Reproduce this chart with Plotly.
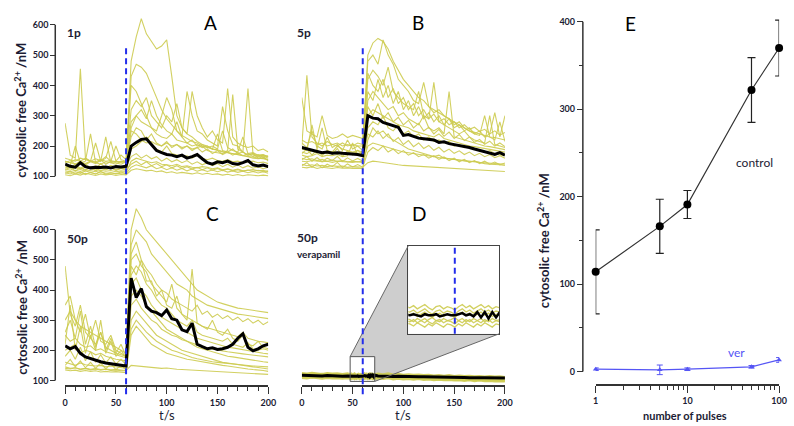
import plotly.graph_objects as go

W, H = 794, 426


def fx(x):
    return x / W


def fy(y):
    return 1 - y / H


# ---------------- time grids ----------------
T = list(range(0, 201, 5))
TD = list(range(0, 46, 5)) + list(range(48, 73)) + list(range(75, 201, 5))

# ---------------- A: 1 pulse ----------------
a_mean = [140, 133, 130, 145, 132, 128, 130, 129, 131, 128,
          132, 131, 133, 200, 212, 222, 224, 205, 185, 178,
          172, 170, 165, 170, 160, 165, 172, 158, 145, 140,
          148, 145, 150, 142, 140, 145, 152, 138, 134, 137,
          132]
a_cells = [
    [150, 145, 140, 148, 142, 150, 145, 140, 148, 145,
     150, 145, 150, 480, 560, 620, 570, 545, 520, 530,
     550, 430, 300, 260, 240, 230, 215, 205, 200, 190,
     188, 182, 178, 175, 170, 168, 165, 160, 158, 160,
     155],
    [130, 128, 132, 125, 130, 128, 135, 130, 126, 130,
     128, 132, 130, 430, 470, 460, 440, 400, 360, 320,
     290, 270, 250, 235, 225, 215, 210, 200, 195, 190,
     185, 180, 178, 175, 170, 168, 165, 162, 160, 158,
     155],
    [275, 170, 160, 455, 160, 150, 210, 150, 160, 215,
     150, 170, 155, 400, 380, 340, 300, 260, 250, 300,
     360, 320, 250, 230, 380, 300, 250, 240, 220, 210,
     200, 330, 250, 205, 200, 180, 170, 175, 160, 165,
     150],
    [150, 145, 155, 150, 160, 150, 148, 155, 150, 152,
     148, 150, 150, 320, 350, 330, 360, 300, 280, 260,
     300, 280, 340, 260, 240, 380, 300, 260, 230, 250,
     220, 210, 390, 230, 210, 200, 195, 200, 185, 190,
     180],
    [125, 120, 128, 122, 130, 125, 120, 130, 124, 128,
     122, 126, 125, 250, 240, 220, 210, 215, 205, 200,
     210, 200, 205, 195, 200, 190, 195, 200, 185, 180,
     178, 175, 185, 370, 190, 180, 390, 170, 165, 168,
     160],
    [112, 108, 115, 110, 118, 112, 108, 115, 110, 112,
     108, 110, 112, 150, 160, 155, 150, 145, 148, 140,
     138, 135, 140, 132, 135, 130, 128, 132, 130, 125,
     128, 122, 125, 120, 124, 118, 120, 122, 118, 120,
     115],
    [105, 102, 108, 104, 110, 106, 103, 108, 105, 107,
     103, 106, 105, 120, 125, 122, 118, 120, 115, 118,
     112, 115, 110, 113, 110, 108, 112, 107, 110, 106,
     108, 104, 107, 103, 106, 102, 105, 104, 102, 104,
     102],
    [140, 135, 200, 145, 150, 240, 145, 150, 230, 145,
     140, 150, 145, 280, 300, 320, 290, 350, 300, 270,
     250, 240, 280, 230, 210, 220, 200, 205, 195, 200,
     190, 250, 195, 185, 180, 230, 175, 178, 170, 172,
     165],
    [160, 155, 150, 160, 155, 150, 158, 152, 165, 150,
     200, 155, 150, 260, 300, 280, 270, 260, 240, 230,
     225, 240, 220, 215, 210, 200, 205, 195, 200, 190,
     240, 185, 180, 190, 175, 180, 170, 175, 168, 170,
     165],
    [118, 115, 120, 116, 122, 118, 115, 120, 117, 119,
     115, 118, 117, 190, 200, 215, 230, 210, 190, 180,
     200, 175, 170, 165, 168, 160, 170, 158, 155, 160,
     152, 150, 155, 148, 150, 145, 148, 150, 145, 147,
     142],
    [135, 128, 140, 126, 138, 130, 125, 142, 128, 136,
     130, 126, 132, 165, 175, 160, 170, 158, 165, 150,
     160, 148, 155, 145, 152, 140, 148, 138, 145, 135,
     142, 132, 140, 130, 138, 128, 135, 127, 132, 125,
     130],
    [122, 130, 118, 128, 120, 132, 118, 126, 121, 129,
     119, 127, 120, 140, 150, 138, 148, 135, 142, 132,
     138, 128, 135, 126, 132, 124, 130, 122, 128, 120,
     126, 119, 124, 118, 122, 117, 121, 116, 120, 115,
     118],
    [145, 152, 140, 150, 138, 148, 142, 155, 140, 150,
     145, 140, 148, 230, 260, 250, 220, 240, 210, 200,
     215, 195, 205, 190, 200, 185, 195, 180, 190, 175,
     185, 172, 180, 170, 178, 168, 175, 165, 172, 162,
     168],
    [110, 115, 108, 114, 106, 113, 108, 116, 107, 112,
     109, 114, 108, 130, 138, 132, 128, 135, 125, 130,
     122, 128, 120, 126, 118, 124, 117, 122, 116, 121,
     115, 120, 114, 118, 113, 117, 112, 116, 111, 115,
     110],
]

# ---------------- B: 5 pulses ----------------
b_mean = [195, 190, 185, 182, 178, 180, 176, 178, 176, 175,
          174, 172, 168, 300, 292, 290, 278, 272, 268, 262,
          235, 238, 232, 226, 224, 222, 220, 212, 214, 208,
          205, 200, 198, 195, 190, 186, 182, 176, 172, 178,
          170]
b_cells = [
    [220, 210, 215, 205, 210, 200, 205, 210, 200, 205,
     200, 210, 205, 500, 540, 555, 545, 520, 480, 450,
     420, 400, 380, 360, 350, 330, 320, 310, 300, 290,
     280, 270, 260, 250, 245, 240, 235, 230, 228, 225,
     220],
    [200, 433, 230, 210, 200, 215, 205, 200, 210, 200,
     205, 200, 200, 480, 500, 470, 550, 500, 470, 420,
     400, 380, 350, 340, 410, 330, 310, 320, 300, 290,
     270, 280, 260, 250, 240, 235, 300, 230, 220, 280,
     215],
    [360, 250, 240, 230, 300, 235, 225, 230, 240, 228,
     235, 230, 225, 420, 450, 430, 400, 460, 380, 360,
     340, 330, 320, 380, 300, 290, 410, 280, 270, 260,
     250, 240, 250, 230, 220, 215, 210, 300, 205, 200,
     195],
    [180, 175, 185, 178, 180, 176, 182, 178, 180, 175,
     178, 176, 175, 350, 380, 360, 340, 320, 330, 300,
     310, 290, 280, 270, 300, 260, 250, 260, 240, 380,
     230, 225, 220, 215, 210, 205, 200, 198, 195, 190,
     188],
    [160, 155, 158, 152, 156, 150, 154, 150, 152, 148,
     150, 148, 150, 300, 320, 310, 300, 290, 280, 270,
     265, 260, 250, 245, 240, 235, 230, 240, 225, 220,
     215, 210, 205, 200, 198, 195, 190, 188, 185, 182,
     180],
    [140, 135, 138, 134, 136, 132, 135, 133, 134, 130,
     132, 130, 130, 145, 150, 148, 145, 142, 140, 138,
     136, 135, 134, 132, 130, 130, 128, 128, 126, 125,
     124, 123, 122, 121, 120, 120, 119, 118, 118, 117,
     116],
    [130, 128, 132, 126, 130, 128, 126, 129, 127, 128,
     126, 127, 125, 220, 260, 240, 250, 230, 220, 210,
     200, 190, 185, 180, 175, 170, 165, 170, 160, 158,
     155, 152, 150, 148, 150, 145, 142, 140, 140, 138,
     136],
    [190, 185, 270, 190, 260, 185, 180, 200, 190, 185,
     180, 185, 180, 380, 350, 420, 360, 400, 340, 380,
     320, 350, 300, 330, 290, 310, 280, 300, 270, 290,
     260, 270, 250, 260, 240, 250, 230, 240, 310, 230,
     300],
    [170, 165, 168, 175, 165, 170, 168, 172, 165, 168,
     210, 170, 165, 260, 280, 270, 300, 260, 250, 270,
     240, 250, 230, 240, 220, 230, 215, 220, 210, 215,
     200, 205, 195, 200, 190, 185, 180, 185, 175, 170,
     170],
    [150, 148, 152, 150, 148, 150, 146, 150, 148, 147,
     146, 148, 145, 200, 210, 205, 200, 195, 190, 185,
     180, 178, 175, 172, 170, 168, 165, 162, 160, 158,
     155, 153, 150, 150, 148, 146, 145, 144, 142, 140,
     140],
    [175, 190, 170, 188, 168, 185, 172, 192, 166, 184,
     170, 186, 172, 330, 300, 340, 290, 310, 280, 295,
     270, 285, 260, 275, 250, 262, 240, 255, 232, 246,
     225, 238, 218, 230, 212, 222, 206, 216, 200, 210,
     198],
    [135, 145, 130, 142, 128, 140, 132, 146, 129, 141,
     131, 139, 130, 180, 195, 185, 200, 180, 190, 175,
     185, 170, 178, 165, 172, 160, 168, 156, 164, 152,
     160, 148, 156, 145, 152, 142, 150, 140, 147, 138,
     144],
    [210, 195, 250, 200, 190, 230, 195, 205, 185, 220,
     190, 200, 185, 440, 400, 380, 420, 360, 390, 340,
     360, 320, 340, 300, 320, 290, 305, 280, 290, 270,
     280, 260, 270, 255, 262, 248, 255, 240, 250, 236,
     245],
    [155, 165, 150, 162, 148, 160, 152, 166, 149, 161,
     151, 159, 150, 240, 230, 250, 225, 240, 215, 228,
     205, 218, 198, 210, 192, 202, 186, 196, 180, 190,
     176, 184, 172, 180, 168, 176, 165, 172, 162, 168,
     160],
]

# ---------------- C: 50 pulses ----------------
c_mean = [215, 205, 212, 190, 178, 172, 168, 162, 158, 156,
          152, 150, 148, 440, 375, 405, 345, 330, 325, 315,
          334, 305, 300, 268, 262, 290, 220, 212, 205, 208,
          203, 205, 210, 220, 240, 255, 210, 198, 205, 215,
          220]
c_cells = [
    [300, 330, 300, 280, 270, 260, 250, 240, 230, 220,
     210, 200, 190, 600, 670, 640, 600, 580, 560, 540,
     520, 500, 480, 460, 440, 420, 400, 390, 380, 370,
     360, 355, 350, 345, 340, 338, 335, 332, 330, 328,
     325],
    [480, 320, 280, 350, 260, 240, 300, 230, 220, 250,
     200, 190, 180, 550, 600, 580, 560, 520, 500, 480,
     460, 440, 420, 410, 400, 380, 370, 360, 350, 345,
     340, 335, 330, 325, 320, 318, 315, 312, 310, 308,
     305],
    [350, 380, 300, 260, 320, 240, 220, 260, 210, 200,
     190, 185, 180, 500, 520, 480, 460, 420, 400, 380,
     360, 420, 340, 320, 310, 300, 290, 280, 275, 270,
     265, 260, 255, 250, 245, 260, 240, 235, 230, 228,
     225],
    [200, 210, 220, 190, 200, 195, 185, 190, 180, 175,
     170, 168, 165, 450, 480, 460, 420, 400, 370, 350,
     340, 320, 300, 290, 280, 300, 260, 250, 245, 240,
     235, 230, 240, 220, 215, 210, 225, 205, 200, 205,
     200],
    [250, 230, 240, 220, 210, 215, 200, 205, 195, 190,
     185, 180, 175, 420, 440, 400, 380, 350, 330, 310,
     300, 290, 280, 270, 260, 250, 240, 235, 230, 225,
     220, 215, 210, 208, 205, 200, 198, 195, 192, 190,
     188],
    [160, 155, 150, 158, 152, 150, 148, 150, 145, 148,
     145, 143, 140, 380, 400, 380, 350, 330, 310, 290,
     270, 260, 250, 240, 230, 220, 210, 205, 200, 195,
     190, 185, 180, 178, 175, 172, 170, 168, 165, 162,
     160],
    [145, 140, 142, 138, 140, 137, 139, 136, 138, 135,
     136, 134, 133, 150, 148, 146, 145, 144, 142, 140,
     141, 138, 137, 136, 135, 134, 133, 132, 130, 130,
     129, 128, 127, 126, 125, 124, 124, 123, 122, 121,
     120],
    [140, 138, 142, 136, 140, 135, 138, 134, 137, 133,
     135, 132, 132, 300, 330, 310, 290, 270, 250, 240,
     230, 220, 210, 200, 195, 190, 185, 180, 175, 170,
     165, 160, 158, 155, 152, 150, 148, 145, 143, 140,
     138],
    [220, 350, 200, 280, 190, 250, 200, 300, 190, 230,
     180, 200, 175, 480, 450, 500, 430, 430, 380, 400,
     350, 340, 380, 320, 300, 470, 290, 280, 270, 300,
     260, 250, 270, 240, 230, 250, 220, 215, 230, 210,
     205],
    [135, 132, 134, 130, 133, 130, 132, 128, 130, 128,
     129, 127, 126, 250, 280, 260, 240, 220, 210, 200,
     190, 185, 180, 175, 170, 168, 165, 160, 158, 155,
     152, 150, 148, 145, 143, 140, 138, 136, 135, 133,
     130],
    [260, 300, 240, 330, 220, 280, 210, 260, 200, 240,
     190, 220, 180, 520, 560, 500, 470, 450, 420, 400,
     390, 370, 360, 350, 340, 330, 350, 320, 330, 310,
     320, 305, 315, 300, 310, 295, 305, 290, 300, 285,
     295],
    [180, 200, 170, 210, 165, 195, 160, 185, 158, 178,
     155, 170, 152, 350, 370, 340, 320, 300, 290, 270,
     260, 250, 245, 235, 230, 225, 218, 212, 208, 204,
     200, 198, 195, 192, 190, 188, 186, 184, 182, 180,
     178],
    [150, 170, 145, 165, 142, 160, 140, 158, 138, 155,
     136, 150, 135, 270, 300, 280, 260, 245, 230, 220,
     210, 200, 195, 188, 182, 176, 172, 168, 165, 162,
     160, 158, 156, 154, 152, 150, 149, 148, 147, 146,
     145],
]

# ---------------- D: 50 pulses + verapamil ----------------
d_mean = ([117, 116, 117, 116, 115, 116, 115, 115, 114, 115]
          + [114, 115, 114, 113, 115, 114, 114, 115, 113, 114, 115, 114, 114,
             115, 116, 114, 115, 113, 117, 112, 117, 111, 117, 112, 117]
          + [115, 114, 115, 113, 114, 113, 113, 112, 112, 112, 112, 111, 111,
             111, 110, 111, 110, 110, 109, 110, 109, 109, 109, 108, 109, 108])
d_cells = [
    [125, 123, 126, 124, 122, 125, 123, 124, 122, 124]
    + [121, 123, 120, 122, 124, 121, 119, 122, 123, 120, 122, 121, 119,
       122, 124, 121, 123, 120, 122, 124, 121, 123, 120, 122, 121]
    + [123, 121, 124, 120, 122, 119, 121, 119, 120, 118, 119, 117, 118,
       116, 118, 115, 117, 115, 116, 114, 115, 113, 115, 113, 114, 112],
    [119, 121, 118, 120, 122, 119, 121, 118, 120, 119]
    + [117, 119, 116, 118, 120, 117, 115, 118, 119, 116, 118, 117, 115,
       118, 120, 117, 119, 116, 118, 120, 117, 119, 116, 118, 117]
    + [118, 116, 119, 115, 117, 115, 116, 114, 116, 113, 115, 112, 114,
       112, 113, 111, 112, 110, 112, 109, 111, 109, 110, 108, 109, 107],
    [113, 111, 114, 112, 110, 113, 111, 112, 110, 112]
    + [110, 108, 111, 109, 107, 110, 112, 109, 108, 111, 109, 110, 112,
       109, 107, 110, 108, 111, 109, 107, 110, 108, 111, 109, 110]
    + [111, 109, 112, 108, 110, 107, 109, 107, 108, 106, 108, 105, 107,
       105, 106, 104, 105, 103, 105, 102, 104, 102, 103, 101, 102, 100],
    [108, 106, 109, 107, 105, 108, 106, 107, 105, 107]
    + [106, 104, 107, 105, 103, 106, 104, 107, 105, 103, 106, 105, 103,
       106, 104, 107, 105, 103, 106, 104, 107, 105, 103, 106, 105]
    + [106, 104, 107, 103, 105, 103, 104, 102, 104, 101, 103, 100, 102,
       100, 101, 99, 100, 98, 100, 97, 99, 97, 98, 96, 97, 96],
    [122, 120, 123, 121, 119, 122, 120, 121, 119, 121]
    + [114, 116, 113, 115, 117, 114, 112, 115, 116, 113, 115, 114, 112,
       115, 117, 114, 116, 113, 115, 117, 114, 116, 113, 115, 114]
    + [116, 114, 117, 113, 115, 112, 114, 112, 113, 111, 113, 110, 112,
       110, 111, 109, 110, 108, 110, 107, 109, 107, 108, 106, 107, 105],
    [110, 112, 109, 111, 113, 110, 112, 109, 111, 110]
    + [108, 110, 107, 109, 111, 108, 106, 109, 110, 107, 109, 108, 106,
       109, 111, 108, 110, 107, 109, 111, 108, 110, 107, 109, 108]
    + [109, 107, 110, 106, 108, 106, 107, 105, 107, 104, 106, 103, 105,
       103, 104, 102, 103, 101, 103, 100, 102, 100, 101, 99, 100, 98],
]

# ---------------- E: peak amplitude vs pulse number ----------------
pulses = [1, 5, 10, 50, 100]
ctrl = [114, 166, 191, 322, 370]
ctrl_err = [48, 31, 16, 37, 32]
ver = [2.6, 1.9, 2.6, 5.3, 13.2]
ver_err = [1.5, 5.5, 1.5, 1.5, 2.7]

STIM_T = 60
ZOOM_T = [47.6, 71.8]
ZOOM_C = [96.7, 178.9]

YELLOW = "rgb(206,204,82)"
BLUE = "rgb(35,45,235)"
VERBLUE = "rgb(85,85,245)"
INK = "#1c1c34"
FONT = "Lato, 'Open Sans', sans-serif"

fig = go.Figure()


def add_panel(times, cells, mean, xa, ya, width=3, cell_width=1.1):
    for c in cells:
        fig.add_trace(go.Scatter(x=times, y=c, xaxis=xa, yaxis=ya, mode="lines",
                                 line=dict(color=YELLOW, width=cell_width), opacity=0.9,
                                 hoverinfo="skip", showlegend=False))
    fig.add_trace(go.Scatter(x=times, y=mean, xaxis=xa, yaxis=ya, mode="lines",
                             line=dict(color="black", width=width),
                             hoverinfo="skip", showlegend=False))


add_panel(T, a_cells, a_mean, "x", "y")
add_panel(T, b_cells, b_mean, "x2", "y")
add_panel(T, c_cells, c_mean, "x", "y2")
add_panel(TD, d_cells, d_mean, "x2", "y2", width=3, cell_width=1.8)
add_panel(TD, d_cells, d_mean, "x4", "y4", width=2.5, cell_width=1.3)

fig.add_trace(go.Scatter(
    x=pulses, y=ctrl, xaxis="x3", yaxis="y3", mode="lines+markers",
    line=dict(color="#333333", width=1.2),
    marker=dict(color="black", size=8),
    error_y=dict(type="data", array=ctrl_err, color="#222222", thickness=1.2, width=4),
    cliponaxis=False, showlegend=False, name="control"))
fig.add_trace(go.Scatter(
    x=pulses, y=ver, xaxis="x3", yaxis="y3", mode="lines+markers",
    line=dict(color=VERBLUE, width=1.2),
    marker=dict(color=VERBLUE, size=5, symbol="triangle-up"),
    error_y=dict(type="data", array=ver_err, color=VERBLUE, thickness=1, width=3),
    cliponaxis=False, showlegend=False, name="ver"))

tickfont = dict(family=FONT, size=9, color=INK, weight="bold")

time_axis = dict(range=[0, 200], anchor="free", position=fy(389), showline=True,
                 linecolor="#333", linewidth=1.5, ticks="outside", ticklen=7,
                 tickwidth=1.2, tickcolor="#333", tickvals=[0, 50, 100, 150, 200],
                 minor=dict(dtick=10, ticks="outside", ticklen=4, tickcolor="#333"),
                 tickfont=tickfont, showgrid=False, zeroline=False, ticklabelstandoff=1)
conc_axis = dict(anchor="free", position=fx(53), showline=False, ticks="outside",
                 ticklen=5, tickwidth=1.2, tickcolor="#333",
                 tickvals=[100, 200, 300, 400, 500, 600], tickfont=tickfont,
                 showgrid=False, zeroline=False)


def ydom(v_lo, v_hi, px_lo, px_hi, r_lo, r_hi):
    # map a value range onto pixel rows and extend it to the plotted range
    k = (px_lo - px_hi) / (v_hi - v_lo)
    return [fy(px_lo + (v_lo - r_lo) * k), fy(px_hi - (r_hi - v_hi) * k)]


fig.update_layout(
    width=W, height=H, margin=dict(l=0, r=0, t=0, b=0),
    paper_bgcolor="white", plot_bgcolor="rgba(0,0,0,0)",
    font=dict(family=FONT, color=INK),
    xaxis=dict(domain=[fx(63), fx(269)], **time_axis),
    xaxis2=dict(domain=[fx(303), fx(509)], **time_axis),
    yaxis=dict(domain=ydom(100, 600, 177, 24, 92, 645), range=[92, 645], **conc_axis),
    yaxis2=dict(domain=ydom(100, 600, 383, 231, 90, 690), range=[90, 690], **conc_axis),
    xaxis3=dict(type="log", domain=[fx(601), fx(787)], range=[0, 2], anchor="free",
                position=fy(388), showline=True, linecolor="#333", linewidth=1.5,
                ticks="outside", ticklen=7, tickwidth=1.2, tickcolor="#333",
                tickvals=[1, 10, 100], ticktext=["1", "10", "100"], tickfont=tickfont,
                minor=dict(tickvals=[2, 3, 4, 5, 6, 7, 8, 9, 20, 30, 40, 50, 60, 70, 80, 90],
                           ticks="outside", ticklen=4, tickcolor="#333"),
                showgrid=False, zeroline=False),
    yaxis3=dict(domain=ydom(0, 400, 374, 21, -8, 405), range=[-8, 405], anchor="free",
                position=fx(588), showline=False, ticks="outside", ticklen=6,
                tickwidth=1.2, tickcolor="#333", tickvals=[0, 100, 200, 300, 400],
                minor=dict(tickvals=[50, 150, 250, 350], ticks="outside", ticklen=4,
                           tickcolor="#333"),
                tickfont=tickfont, showgrid=False, zeroline=False),
    xaxis4=dict(domain=[fx(411), fx(503)], range=ZOOM_T, anchor="y4", showline=True,
                mirror=True, linecolor="#444", linewidth=1.2, showticklabels=False,
                ticks="", showgrid=False, zeroline=False),
    yaxis4=dict(domain=[fy(336), fy(247)], range=ZOOM_C, anchor="x4", showline=True,
                mirror=True, linecolor="#444", linewidth=1.2, showticklabels=False,
                ticks="", showgrid=False, zeroline=False),
)


def ppath(points):
    return "M " + " L ".join(f"{fx(x):.5f},{fy(y):.5f}" for x, y in points) + " Z"


DASH = dict(color=BLUE, width=2, dash="6px,4px")
shapes = [
    # zoom cone behind the inset
    dict(type="path", xref="paper", yref="paper", layer="below",
         path=ppath([(352, 359), (411, 247), (411, 336), (503, 336), (377, 384), (377, 359)]),
         fillcolor="rgb(206,206,206)", line=dict(width=0)),
    dict(type="rect", xref="paper", yref="paper", layer="below",
         x0=fx(411), x1=fx(503), y0=fy(336), y1=fy(247), fillcolor="white",
         line=dict(width=0)),
    dict(type="line", xref="paper", yref="paper", x0=fx(352), y0=fy(359), x1=fx(411),
         y1=fy(247), line=dict(color="#666", width=1)),
    dict(type="line", xref="paper", yref="paper", x0=fx(377), y0=fy(384), x1=fx(503),
         y1=fy(336), line=dict(color="#666", width=1)),
    dict(type="rect", xref="x2", yref="y2", x0=ZOOM_T[0], x1=ZOOM_T[1], y0=ZOOM_C[0],
         y1=ZOOM_C[1], line=dict(color="#555", width=1)),
    # y axis spines
    dict(type="line", xref="paper", yref="y", x0=fx(53), x1=fx(53), y0=100, y1=600,
         line=dict(color="#333", width=1.5)),
    dict(type="line", xref="paper", yref="y2", x0=fx(53), x1=fx(53), y0=100, y1=600,
         line=dict(color="#333", width=1.5)),
    dict(type="line", xref="paper", yref="y3", x0=fx(588), x1=fx(588), y0=0, y1=400,
         line=dict(color="#333", width=1.5)),
    # stimulus markers
    dict(type="line", xref="x", yref="paper", x0=STIM_T, x1=STIM_T, y0=fy(397), y1=fy(47),
         line=DASH),
    dict(type="line", xref="x2", yref="paper", x0=STIM_T, x1=STIM_T, y0=fy(397), y1=fy(45),
         line=DASH),
    dict(type="line", xref="x4", yref="y4 domain", x0=STIM_T, x1=STIM_T, y0=0, y1=1,
         line=DASH),
]
fig.update_layout(shapes=shapes)


def label(x, y, text, size, color=INK, bold=True, xanchor="center", angle=0):
    fig.add_annotation(x=fx(x), y=fy(y), xref="paper", yref="paper", text=text,
                       showarrow=False, xanchor=xanchor, yanchor="middle",
                       textangle=angle,
                       font=dict(family=FONT, size=size, color=color,
                                 weight="bold" if bold else "normal"))


for x, y, t in [(210, 22, "A"), (421, 22, "B"), (212, 215, "C"), (422, 215, "D"),
                (636, 23, "E")]:
    label(x, y, t, 19, color="black", bold=False)

label(63, 32, "1p", 12, xanchor="left")
label(296, 32, "5p", 12, xanchor="left")
label(63, 240, "50p", 12, xanchor="left")
label(296, 239, "50p", 12, xanchor="left")
label(296, 255, "verapamil", 10, xanchor="left")
label(741, 163, "control", 12, bold=False, xanchor="left")
label(733, 355, "ver", 12, color=VERBLUE, bold=False, xanchor="left")

ytitle = "cytosolic free Ca<sup>2+</sup> /nM"
label(18, 110, ytitle, 13, angle=-90)
label(18, 309, ytitle, 13, angle=-90)
label(548, 242, ytitle, 13, angle=-90)
label(166, 418, "t/s", 13, bold=False)
label(406, 418, "t/s", 13, bold=False)
label(692, 418, "number of pulses", 11)

fig.write_html("out.html")
